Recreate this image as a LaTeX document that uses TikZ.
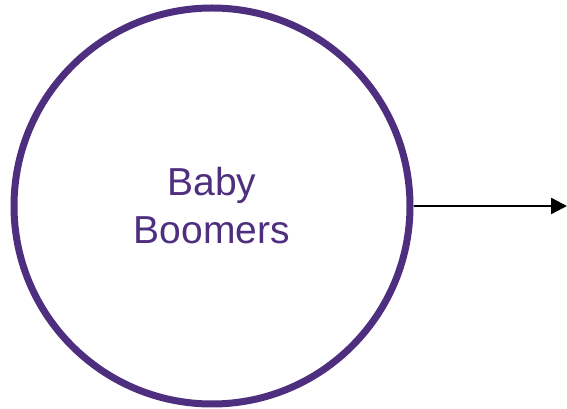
\documentclass[tikz,border=0pt]{standalone}
\usepackage{fontspec}
\setmainfont{Liberation Sans}
\usepackage{xcolor}
\usetikzlibrary{arrows.meta,positioning}
\definecolor{clrP}{RGB}{78,46,126}
\tikzset{
  generation/.style={circle,draw=clrP,line width=7pt,fill=white,
    minimum size=396pt,inner sep=0pt,text=clrP,align=center,
    font=\fontsize{39}{48}\selectfont},
  arrow/.style={-{Triangle[length=16pt,width=16pt]},line width=2.5pt,
    color=black}
}
\begin{document}
\begin{tikzpicture}[x=1pt,y=1pt]
  \useasboundingbox (0,0) rectangle (567,409);

  \node[generation] (boomers) at (212,203) {Baby\\Boomers};
  \coordinate (next) at (567,203);
  \draw[arrow] (boomers.east) -- (next);
\end{tikzpicture}
\end{document}
